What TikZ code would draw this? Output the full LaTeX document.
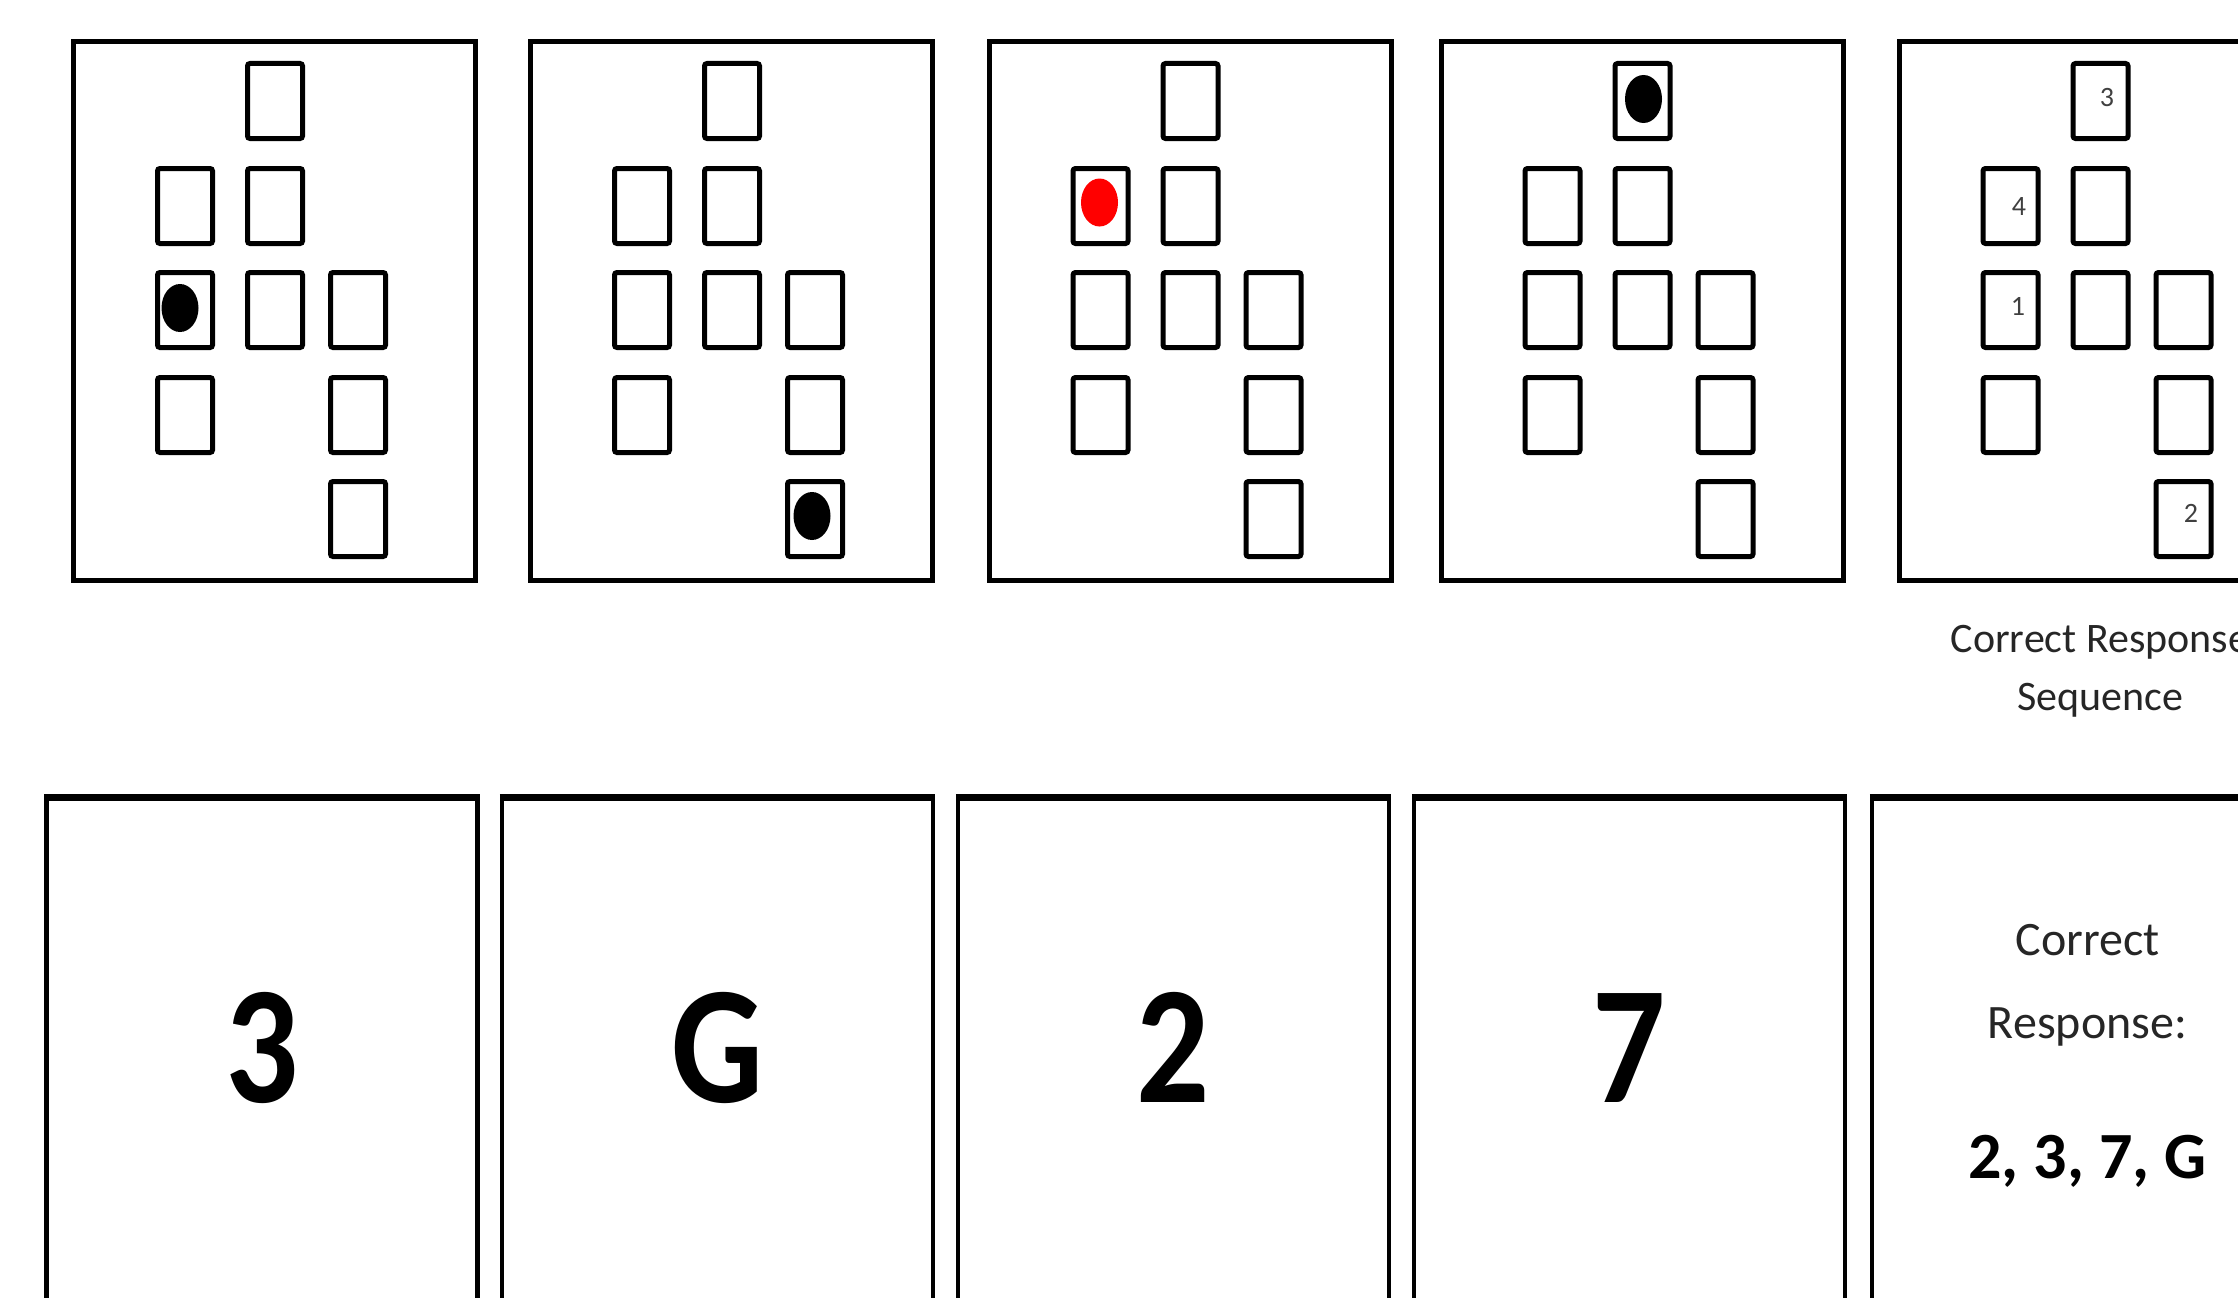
\documentclass[tikz,border=0pt]{standalone}
\usepackage{fontspec}
\usepackage{graphicx}
\setmainfont{Carlito}
\usetikzlibrary{shapes.geometric}
\definecolor{dotred}{RGB}{255,0,0}
\definecolor{numgray}{RGB}{64,64,64}
\newcommand\narrow[1]{\scalebox{0.86}[1]{#1}}
\begin{document}
\begin{tikzpicture}[x=1pt,y=-1pt,
  panel/.style={draw, line width=5pt, rectangle, inner sep=0pt, outer sep=0pt, minimum width=402pt, minimum height=538pt, anchor=north west},
  card/.style={draw, line width=4.5pt, rectangle, inner sep=0pt, outer sep=0pt, minimum width=431pt, minimum height=700pt, anchor=north west},
  cardtop/.style={line width=7pt, shorten <=-2.25pt, shorten >=-2.25pt},
  cell/.style={draw, line width=5pt, rectangle, rounded corners=2.5pt, inner sep=0pt, outer sep=0pt, minimum width=55pt, minimum height=75pt},
  dot/.style={ellipse, fill=black, inner sep=0pt, outer sep=0pt, minimum width=37pt, minimum height=48pt},
  num/.style={font=\fontsize{28}{28}\selectfont, text=numgray, inner sep=0pt},
  captxt/.style={font=\fontsize{42}{42}\selectfont, text=black!85, inner sep=0pt, anchor=base},
  bigtxt/.style={font=\fontsize{168}{168}\selectfont\bfseries, inner sep=0pt, anchor=base},
  resp/.style={font=\fontsize{48}{48}\selectfont, text=black!85, inner sep=0pt, anchor=base},
  respbold/.style={font=\fontsize{66}{66}\selectfont\bfseries, inner sep=0pt, anchor=base}
]
\path[use as bounding box] (0,0) rectangle (2238,1298);
\clip (0,0) rectangle (2238,1298);

% top row: spatial grids
\foreach \i/\L in {1/73.5, 2/530.5, 3/989, 4/1441, 5/1899} {
  \node[panel] (p\i) at (\L,42) {};
  \foreach \c/\cx/\ry in {b1/201.5/101, a2/111.5/206, b2/201.5/206, a3/111.5/310, b3/201.5/310, c3/284.5/310, a4/111.5/415, c4/284.5/415, c5/284.5/519}
    \node[cell] (p\i-\c) at (\L+\cx,\ry) {};
}

% dots
\node[dot] (d1) at (180,308) {};
\node[dot] (d2) at (812,516) {};
\node[dot, fill=dotred] (d3) at (1099.5,202.5) {};
\node[dot] (d4) at (1643.5,99) {};

% response order numbers
\node[num] (n3) at (2107,98) {3};
\node[num] (n4) at (2019,207) {4};
\node[num] (n1) at (2018,306) {1};
\node[num] (n2) at (2191,513) {2};

% caption
\coordinate (capa) at (0,652);
\coordinate (capb) at (0,710);
\node[captxt] (cap1) at (p5.south |- capa) {Correct Response};
\node[captxt] (cap2) at (p5.south |- capb) {Sequence};

% bottom row: cards
\foreach \i/\L in {1/46.5, 2/502, 3/958, 4/1414, 5/1872} {
  \node[card] (c\i) at (\L,797) {};
  \draw[cardtop] (c\i.north west) -- (c\i.north east);
}

\coordinate (tb) at (0,1102);
\node[bigtxt] (t1) at (c1.north |- tb) {\narrow{3}};
\node[bigtxt] (t2) at (c2.north |- tb) {\narrow{G}};
\node[bigtxt] (t3) at (c3.north |- tb) {\narrow{2}};
\node[bigtxt] (t4) at (c4.north |- tb) {\narrow{7}};

\coordinate (ra) at (0,955.5);
\coordinate (rb) at (0,1038);
\coordinate (rc) at (0,1178.5);
\node[resp] (r1) at (c5.north |- ra) {Correct};
\node[resp] (r2) at (c5.north |- rb) {Response:};
\node[respbold] (r3) at (c5.north |- rc) {2, 3, 7, G};
\end{tikzpicture}
\end{document}
